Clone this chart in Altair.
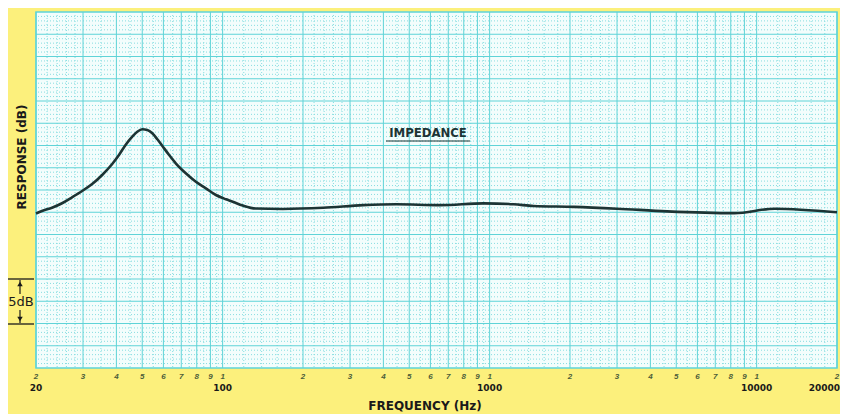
import altair as alt
import pandas as pd

# --- data ---
freq_hz = [20, 21.05, 22.96, 25.03, 27.29, 29.77, 32.46, 35.39, 38.59, 40.9, 43.3, 45.87, 47.91,
           50.03, 52.24, 54.54, 56.96, 59.48, 63.04, 66.75, 72.78, 79.38, 86.55, 94.36, 102.9, 109,
           118.9, 133, 168, 238, 336, 447, 654, 949, 1230, 1460, 2070, 3000, 4620, 8260, 11700, 20000]
response_db = [17.36, 17.64, 18.01, 18.51, 19.18, 19.89, 20.67, 21.69, 22.92, 23.93, 25.06, 25.99, 26.55,
               26.82, 26.74, 26.37, 25.70, 24.94, 23.93, 23.0, 21.88, 20.93, 20.19, 19.44, 18.96, 18.69,
               18.26, 17.92, 17.87, 18.0, 18.3, 18.4, 18.3, 18.5, 18.4, 18.2, 18.1, 17.9, 17.6, 17.4, 17.9, 17.5]

major_ticks = [20, 30, 40, 50, 60, 70, 80, 90,
               100, 200, 300, 400, 500, 600, 700, 800, 900,
               1000, 2000, 3000, 4000, 5000, 6000, 7000, 8000, 9000,
               10000, 20000]
tick_digits = ["2", "3", "4", "5", "6", "7", "8", "9",
               "1", "2", "3", "4", "5", "6", "7", "8", "9",
               "1", "2", "3", "4", "5", "6", "7", "8", "9",
               "1", "2"]
decade_ticks = [20, 100, 1000, 10000]
decade_labels = ["20", "100", "1000", "10000"]
end_tick = [20000]
end_label = ["20000"]

minor_mult = [1.2, 1.4, 1.6, 1.8, 2.2, 2.4, 2.6, 2.8, 3.5, 4.5, 5.5, 6.5, 7.5, 8.5, 9.5]
decades = [10, 100, 1000, 10000]
minor_x = [m * d for d in decades for m in minor_mult if 20 < m * d < 20000]

major_y = [2.5, 5, 7.5, 10, 12.5, 15, 17.5, 20, 22.5, 25, 27.5, 30, 32.5, 35, 37.5]
minor_y = [v / 2 for v in range(0, 81) if v % 5 != 0]

curve = pd.DataFrame({"f": freq_hz, "db": response_db})
ticks_df = pd.DataFrame({"f": major_ticks, "lab": tick_digits})
dec_df = pd.DataFrame({"f": decade_ticks, "lab": decade_labels})
end_df = pd.DataFrame({"f": end_tick, "lab": end_label})
minx_df = pd.DataFrame({"f": minor_x})
miny_df = pd.DataFrame({"db": minor_y})
majx_df = pd.DataFrame({"f": major_ticks})
majy_df = pd.DataFrame({"db": major_y})

W, H = 801, 356
GRID = "#5fd3d7"
MINOR = "#86dde0"
INK = "#1a1a1a"

xscale = alt.Scale(type="log", domain=[20, 20000], nice=False)
yscale = alt.Scale(domain=[0, 40], nice=False, zero=False)

X = alt.X("f:Q", scale=xscale, axis=None)
Y = alt.Y("db:Q", scale=yscale, axis=None)

vminor = alt.Chart(minx_df).mark_rule(color=MINOR, strokeDash=[1, 2], strokeWidth=1).encode(x=X)
hminor = alt.Chart(miny_df).mark_rule(color=MINOR, strokeDash=[1, 2], strokeWidth=1).encode(y=Y)
vmajor = alt.Chart(majx_df).mark_rule(color=GRID, strokeWidth=1).encode(x=X)
hmajor = alt.Chart(majy_df).mark_rule(color=GRID, strokeWidth=1).encode(y=Y)

line = alt.Chart(curve).mark_line(color="#1d3434", strokeWidth=2.6, interpolate="monotone").encode(
    x=X, y=Y
)

digits = alt.Chart(ticks_df).mark_text(fontSize=8, fontStyle="italic", fontWeight="bold",
                                        color="#4d5e3a", baseline="middle").encode(
    x=X, y=alt.value(H + 9), text="lab:N"
)
declabs = alt.Chart(dec_df).mark_text(fontSize=9, fontWeight="bold", color=INK,
                                       baseline="middle", font="DejaVu Sans").encode(
    x=X, y=alt.value(H + 20), text="lab:N"
)
endlab = alt.Chart(end_df).mark_text(fontSize=9, fontWeight="bold", color=INK, align="right", dx=3,
                                      baseline="middle", font="DejaVu Sans").encode(
    x=X, y=alt.value(H + 20), text="lab:N"
)

annot_df = pd.DataFrame({"t": ["IMPEDANCE"]})
impedance = alt.Chart(annot_df).mark_text(fontSize=13, fontWeight="bold", color="#1d3434",
                                           font="DejaVu Sans Condensed", baseline="middle").encode(
    x=alt.value(392), y=alt.value(121), text="t:N"
)
underline = alt.Chart(annot_df).mark_rule(color="#1d3434", strokeWidth=1.2).encode(
    x=alt.value(350), x2=alt.value(434), y=alt.value(129)
)

xtitle = alt.Chart(pd.DataFrame({"t": ["FREQUENCY (Hz)"]})).mark_text(
    fontSize=12, fontWeight="bold", color=INK, font="DejaVu Sans", baseline="middle"
).encode(x=alt.value(389), y=alt.value(394), text="t:N")

ytitle = alt.Chart(pd.DataFrame({"t": ["RESPONSE (dB)"]})).mark_text(
    fontSize=12, fontWeight="bold", color=INK, font="DejaVu Sans", angle=270, baseline="middle"
).encode(x=alt.value(-14), y=alt.value(145), text="t:N")

# 5 dB scale marker
m_top = alt.Chart(annot_df).mark_rule(color=INK, strokeWidth=1.3).encode(
    x=alt.value(-28), x2=alt.value(-2), y=alt.value(267))
m_bot = alt.Chart(annot_df).mark_rule(color=INK, strokeWidth=1.3).encode(
    x=alt.value(-28), x2=alt.value(-2), y=alt.value(312))
m_up = alt.Chart(annot_df).mark_rule(color=INK, strokeWidth=1.2).encode(
    x=alt.value(-16), y=alt.value(268), y2=alt.value(282))
m_dn = alt.Chart(annot_df).mark_rule(color=INK, strokeWidth=1.2).encode(
    x=alt.value(-16), y=alt.value(298), y2=alt.value(311))
a_up = alt.Chart(annot_df).mark_point(shape="triangle-up", filled=True, size=30, color=INK,
                                      opacity=1).encode(x=alt.value(-16), y=alt.value(272))
a_dn = alt.Chart(annot_df).mark_point(shape="triangle-down", filled=True, size=30, color=INK,
                                      opacity=1).encode(x=alt.value(-16), y=alt.value(307))
m_txt = alt.Chart(pd.DataFrame({"t": ["5dB"]})).mark_text(
    fontSize=13, color=INK, font="DejaVu Sans", baseline="middle"
).encode(x=alt.value(-15), y=alt.value(290), text="t:N")

chart = alt.layer(
    vminor, hminor, vmajor, hmajor, line, digits, declabs, endlab, impedance, underline, xtitle, ytitle,
    m_top, m_bot, m_up, m_dn, a_up, a_dn, m_txt
).properties(
    width=W, height=H,
    autosize=alt.AutoSizeParams(type="none"),
    padding={"left": 28, "top": 4, "right": 3, "bottom": 46},
    background="#fcf07c",
).configure_view(
    fill="#f3fdfc", stroke=GRID, strokeWidth=1.5
)

chart.save("out.html", embed_options={"renderer": "svg", "actions": False})
